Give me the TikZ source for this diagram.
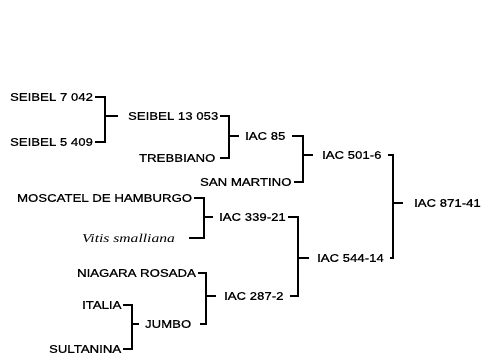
\documentclass[tikz,border=0pt]{standalone}
\usepackage{fontspec}
\usepackage{tikz}
\usetikzlibrary{positioning}
\newfontfamily\cvfont[FakeStretch=1.2,FakeBold=0.8]{Liberation Sans}
\newfontfamily\spfont[FakeStretch=1.3]{Liberation Serif}

\begin{document}
\begin{tikzpicture}[x=1pt,y=-1pt,line width=1.1pt,
    cv/.style={anchor=west,inner xsep=1.5pt,inner ysep=0pt,font=\cvfont\fontsize{11}{13}\selectfont},
    sp/.style={anchor=west,inner xsep=1.5pt,inner ysep=0pt,font=\spfont\itshape\fontsize{12}{14}\selectfont}]
  \useasboundingbox (0,0) rectangle (482,354);
  % parents, left column
  \node[cv] (s7042) at (8,97) {SEIBEL 7 042};
  \node[cv] (s5409) at (8,142) {SEIBEL 5 409};
  \node[cv] (trebb) at (137,158) {TREBBIANO};
  \node[cv] (sanmart) at (198,182) {SAN MARTINO};
  \node[cv] (moscat) at (15,198) {MOSCATEL DE HAMBURGO};
  \node[sp] (vitis) at (80,238) {Vitis smalliana};
  \node[cv] (niagara) at (75,273) {NIAGARA ROSADA};
  \node[cv] (italia) at (80,305) {ITALIA};
  \node[cv] (sultan) at (47,349) {SULTANINA};
  % crosses
  \node[cv] (s13053) at (126,116) {SEIBEL 13 053};
  \node[cv] (iac85) at (243,136) {IAC 85};
  \node[cv] (iac5016) at (320,155) {IAC 501-6};
  \node[cv] (iac33921) at (217,217) {IAC 339-21};
  \node[cv] (iac54414) at (315,258) {IAC 544-14};
  \node[cv] (iac2872) at (222,296) {IAC 287-2};
  \node[cv] (jumbo) at (143,324) {JUMBO};
  \node[cv] (iac87141) at (412,203) {IAC 871-41};
  % bracket joints
  \coordinate (j1) at (105,116);
  \coordinate (j2) at (229,136);
  \coordinate (j3) at (303,155);
  \coordinate (j4) at (393,203);
  \coordinate (j5) at (204,217);
  \coordinate (j6) at (298,258);
  \coordinate (j7) at (206,296);
  \coordinate (j8) at (132,324);
  \draw (s7042.east) -| (j1) |- (s5409.east);
  \draw[shorten >=8pt] (j1) -- (s13053.west);
  \draw[shorten >=3pt] (s13053.east) -| (j2) |- (trebb.east);
  \draw[shorten >=4pt] (j2) -- (iac85.west);
  \draw[shorten <=5pt] (iac85.east) -| (j3) |- (sanmart.east);
  \draw[shorten >=7pt] (j3) -- (iac5016.west);
  \draw[shorten <=4pt,shorten >=4pt] (iac5016.east) -| (j4) |- (iac54414.east);
  \draw[shorten >=9pt] (j4) -- (iac87141.west);
  \draw[shorten >=12pt] (moscat.east) -| (j5) |- (vitis.east);
  \draw[shorten >=4pt] (j5) -- (iac33921.west);
  \draw[shorten >=4pt] (iac33921.east) -| (j6) |- (iac2872.east);
  \draw[shorten >=6pt] (j6) -- (iac54414.west);
  \draw[shorten >=7pt] (niagara.east) -| (j7) |- (jumbo.east);
  \draw[shorten >=6pt] (j7) -- (iac2872.west);
  \draw (italia.east) -| (j8) |- (sultan.east);
  \draw[shorten >=4pt] (j8) -- (jumbo.west);
\end{tikzpicture}
\end{document}
